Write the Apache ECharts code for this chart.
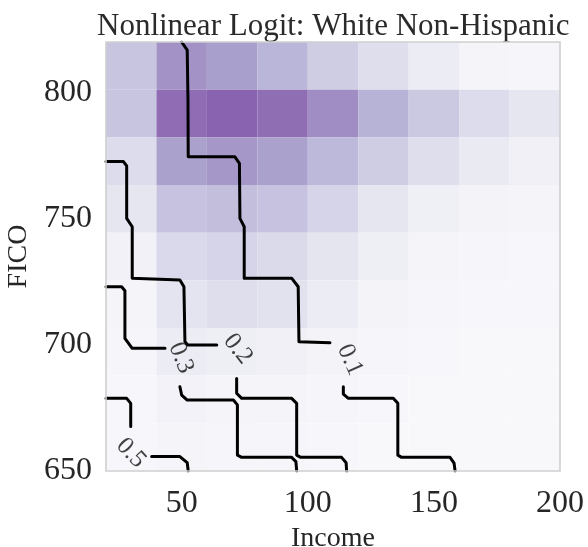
<!DOCTYPE html>
<html>
<head>
<meta charset="utf-8">
<style>
  html, body { margin: 0; padding: 0; background: #ffffff; }
  #chart { width: 588px; height: 547px; }
</style>
<script src="https://cdn.jsdelivr.net/npm/echarts@6/dist/echarts.min.js"></script>
</head>
<body>
<div id="chart"></div>
<script>
// Income bins (thousands) and FICO bins of the shaded grid
const incomeEdges = [20, 40, 60, 80, 100, 120, 140, 160, 180, 200];
const ficoEdges = [650, 668.9, 687.8, 706.7, 725.6, 744.4, 763.3, 782.2, 801.1, 820];

// Relative share of borrowers per cell, rows from the highest FICO band down
const cellShare = [
  [0.46, 0.77, 0.71, 0.57, 0.41, 0.28, 0.15, 0.05, 0.02],
  [0.46, 0.95, 1.00, 0.94, 0.79, 0.59, 0.44, 0.30, 0.21],
  [0.30, 0.70, 0.75, 0.70, 0.55, 0.41, 0.28, 0.17, 0.10],
  [0.21, 0.48, 0.51, 0.48, 0.36, 0.21, 0.11, 0.06, 0.04],
  [0.09, 0.32, 0.36, 0.31, 0.22, 0.13, 0.05, 0.02, 0.01],
  [0.04, 0.23, 0.28, 0.25, 0.15, 0.06, 0.02, 0.01, 0.01],
  [0.02, 0.15, 0.12, 0.10, 0.06, 0.03, 0.01, 0.00, 0.00],
  [0.01, 0.07, 0.05, 0.04, 0.02, 0.01, 0.00, 0.00, 0.00],
  [0.01, 0.04, 0.03, 0.02, 0.01, 0.00, 0.00, 0.00, 0.00]
];

// Contour paths of the predicted default probability, [income, FICO]
const contour010 = [
  [[50.0, 820], [52.2, 816.8], [52.5, 797.0], [52.6, 774.5], [71.1, 774.5], [72.9, 771.9],
   [73.1, 750.1], [74.8, 746.8], [74.8, 726.4], [93.6, 726.4], [96.2, 723.0], [96.5, 701.2],
   [108.8, 700.8]],
  [[114.1, 683.4], [114.1, 680.5], [116.1, 678.8], [133.9, 678.8], [135.7, 676.8],
   [135.7, 656.3], [137.2, 655.4], [156.4, 655.4], [158.0, 653.1], [158.4, 650]]
];
const contour020 = [
  [[20, 772.6], [26.9, 772.6], [28.2, 770.9], [28.2, 750.1], [30.4, 746.8], [30.4, 726.4],
   [49.3, 725.7], [50.9, 723.0], [51.3, 701.2], [52.4, 699.9], [63.9, 699.9]],
  [[71.8, 686.7], [71.8, 680.8], [73.8, 678.8], [93.6, 678.8], [95.6, 676.8], [95.6, 656.3],
   [97.2, 655.4], [113.4, 655.4], [115.2, 653.3], [115.4, 650]]
];
const contour030 = [
  [[20, 723.0], [26.2, 723.0], [27.5, 721.4], [27.5, 702.6], [30.4, 698.6], [43.4, 698.6]],
  [[49.3, 683.4], [50.0, 680.1], [52.2, 678.1], [70.5, 678.1], [72.1, 676.2], [72.1, 656.3],
   [73.8, 655.4], [93.6, 655.4], [95.3, 653.7], [95.6, 650]]
];
const contour050 = [
  [[20, 678.8], [28.2, 678.8], [29.8, 676.8], [29.8, 667.6]],
  [[38.1, 655.7], [49.3, 655.7], [52.2, 653.3], [52.6, 650]]
];

// Level labels and where they sit on their contour
const contourLevels = ['0.1', '0.2', '0.3', '0.5'];
const contourLabelSpots = [[116.7, 694.0], [72.3, 698.3], [49.7, 694.8], [29.9, 657.1]];

// Tick labels
const incomeTicks = [50, 100, 150, 200];
const ficoTicks = [650, 700, 750, 800];

// ---- build series ----
const heatData = [];
cellShare.forEach(function (row, r) {
  const top = ficoEdges.length - 1 - r;
  row.forEach(function (v, c) {
    heatData.push([incomeEdges[c], incomeEdges[c + 1], ficoEdges[top - 1], ficoEdges[top], v]);
  });
});

const labelAngles = [-66, -52, -68, -47];
const serif = '"Liberation Serif", "DejaVu Serif", serif';
const ink = '#262626';

const series = [{
  type: 'custom',
  silent: true,
  z: 1,
  encode: { x: [0, 1], y: [2, 3] },
  data: heatData,
  renderItem: function (params, api) {
    const a = api.coord([api.value(0), api.value(3)]);
    const b = api.coord([api.value(1), api.value(2)]);
    return {
      type: 'rect',
      shape: { x: a[0], y: a[1], width: b[0] - a[0], height: b[1] - a[1] },
      style: { fill: api.visual('color') }
    };
  }
}];

[contour010, contour020, contour030, contour050].forEach(function (paths) {
  paths.forEach(function (seg) {
    series.push({
      type: 'line',
      data: seg,
      symbol: 'none',
      silent: true,
      z: 3,
      lineStyle: { color: '#000000', width: 3, join: 'round', cap: 'round' }
    });
  });
});

series.push({
  type: 'scatter',
  symbolSize: 0,
  silent: true,
  z: 4,
  data: contourLabelSpots.map(function (p, i) {
    return {
      value: p,
      name: contourLevels[i],
      label: { rotate: labelAngles[i] }
    };
  }),
  label: {
    show: true,
    position: 'inside',
    formatter: '{b}',
    fontFamily: serif,
    fontSize: 25,
    color: '#111111'
  }
});

const chart = echarts.init(document.getElementById('chart'), null, { renderer: 'canvas' });
chart.setOption({
  animation: false,
  backgroundColor: '#ffffff',
  title: {
    text: 'Nonlinear Logit: White Non-Hispanic',
    left: 92,
    top: 6,
    textStyle: { fontFamily: serif, fontSize: 31, fontWeight: 'normal', color: '#2a2a2a' }
  },
  grid: {
    left: 106, top: 42, right: 28, bottom: 76,
    outerBoundsMode: 'none',
    containLabel: false,
    show: true,
    z: 10,
    backgroundColor: 'transparent',
    borderColor: '#cfcfcf',
    borderWidth: 1.6
  },
  visualMap: {
    type: 'continuous',
    show: false,
    min: 0,
    max: 1,
    dimension: 4,
    seriesIndex: 0,
    inRange: {
      color: ['#f8f8fb', '#eeeef5', '#e2e2ef', '#d3d2e7', '#c3bfdd', '#b3afd5', '#a597c8', '#9679b9', '#8a63b0']
    }
  },
  xAxis: {
    type: 'value',
    min: 20,
    max: 200,
    interval: 10,
    name: 'Income',
    nameLocation: 'middle',
    nameGap: 45,
    nameTextStyle: { fontFamily: serif, fontSize: 28, color: ink },
    axisLine: { show: false },
    axisTick: { show: false },
    splitLine: { show: false },
    axisLabel: {
      margin: 17,
      fontFamily: serif,
      fontSize: 32,
      color: ink,
      formatter: function (v) { return incomeTicks.indexOf(v) >= 0 ? String(v) : ''; }
    }
  },
  yAxis: {
    type: 'value',
    min: 650,
    max: 820,
    interval: 50,
    name: 'FICO',
    nameLocation: 'middle',
    nameGap: 70,
    nameTextStyle: { fontFamily: serif, fontSize: 28, color: ink },
    axisLine: { show: false },
    axisTick: { show: false },
    splitLine: { show: false },
    axisLabel: {
      margin: 14,
      fontFamily: serif,
      fontSize: 32,
      color: ink,
      formatter: function (v) { return ficoTicks.indexOf(v) >= 0 ? String(v) : ''; }
    }
  },
  series: series
});
</script>
</body>
</html>
